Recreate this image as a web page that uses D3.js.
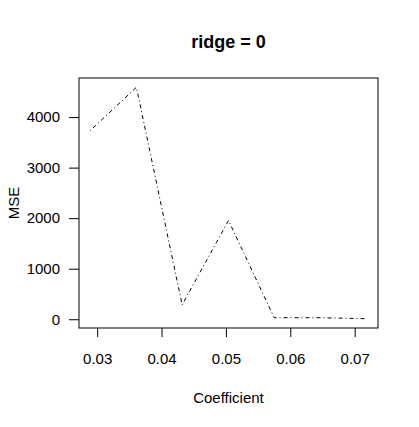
<!DOCTYPE html>
<html>
<head>
<meta charset="utf-8">
<script src="https://cdn.jsdelivr.net/npm/d3@7"></script>
<style>
  body { margin: 0; background: #fff; }
  text { font-family: "Liberation Sans", Arial, sans-serif; fill: #000; }
</style>
</head>
<body>
<div id="graph"></div>
<script>
var width = 419, height = 427

// coefficient vs MSE
var coefficient = [0.0289, 0.0361, 0.0432, 0.0504, 0.0575, 0.0647, 0.0719]
var mse = [3730, 4590, 285, 1955, 30, 30, 10]
var xTicks = [0.03, 0.04, 0.05, 0.06, 0.07]
var yTicks = [0, 1000, 2000, 3000, 4000]

var m = {left: 79, right: 378, top: 78, bottom: 328}

// R style 4% padding on each end
function padded(ext){
  var d = (ext[1] - ext[0]) * 0.04
  return [ext[0] - d, ext[1] + d]
}

var x = d3.scaleLinear().domain(padded(d3.extent(coefficient))).range([m.left, m.right])
var y = d3.scaleLinear().domain(padded(d3.extent(mse))).range([m.bottom, m.top])

var svg = d3.select('#graph').append('svg')
    .attr('width', width).attr('height', height)

svg.append('rect').attr('width', width).attr('height', height).attr('fill', '#fff')

var line = d3.line()
    .x(function(d, i){ return x(coefficient[i]) })
    .y(function(d){ return y(d) })

svg.append('path')
    .datum(mse)
    .attr('d', line)
    .attr('fill', 'none')
    .attr('stroke', '#000')
    .attr('stroke-width', 1)
    .attr('stroke-dasharray', '1 3 4 3')

svg.append('rect')
    .attr('x', m.left).attr('y', m.top)
    .attr('width', m.right - m.left).attr('height', m.bottom - m.top)
    .attr('fill', 'none').attr('stroke', '#000').attr('stroke-width', 1)

var xAxis = d3.axisBottom(x).tickValues(xTicks).tickSize(9).tickPadding(16)
    .tickFormat(d3.format('.2f'))
var yAxis = d3.axisLeft(y).tickValues(yTicks).tickSize(10).tickPadding(9)
    .tickFormat(d3.format('d'))

var gx = svg.append('g').attr('transform', 'translate(0,' + m.bottom + ')').call(xAxis)
var gy = svg.append('g').attr('transform', 'translate(' + m.left + ',0)').call(yAxis)

;[gx, gy].forEach(function(g){
  g.attr('font-size', 15).attr('font-family', '"Liberation Sans", Arial, sans-serif')
  g.select('.domain').remove()
  g.selectAll('line').attr('stroke', '#000')
})

svg.append('text')
    .attr('x', (m.left + m.right) / 2).attr('y', 48)
    .attr('text-anchor', 'middle')
    .attr('font-size', 18).attr('font-weight', 'bold')
    .text('ridge = 0')

svg.append('text')
    .attr('x', (m.left + m.right) / 2).attr('y', 403)
    .attr('text-anchor', 'middle')
    .attr('font-size', 15)
    .text('Coefficient')

svg.append('text')
    .attr('transform', 'translate(19,' + (m.top + m.bottom) / 2 + ') rotate(-90)')
    .attr('text-anchor', 'middle')
    .attr('font-size', 15)
    .text('MSE')
</script>
</body>
</html>
